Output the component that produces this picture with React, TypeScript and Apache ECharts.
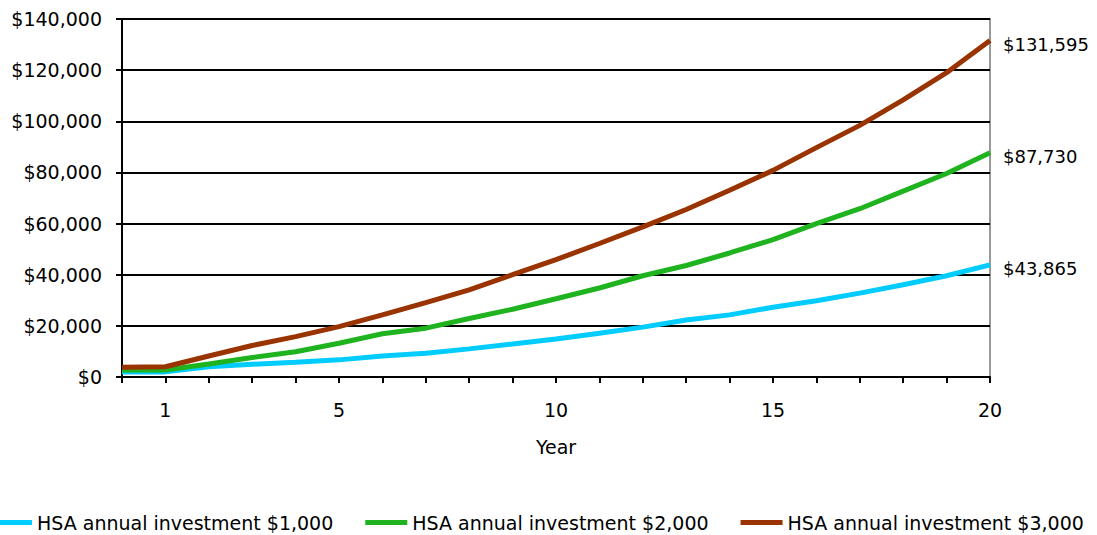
import React, { useEffect, useRef } from "react";
import * as echarts from "echarts";

const years = [0, 1, 2, 3, 4, 5, 6, 7, 8, 9, 10, 11, 12, 13, 14, 15, 16, 17, 18, 19, 20];
const xTickLabels = [1, 5, 10, 15, 20];
const seriesNames = [
  "HSA annual investment $1,000",
  "HSA annual investment $2,000",
  "HSA annual investment $3,000",
];
const invest1000 = [2000, 2000, 4000, 5000, 5800, 6700, 8200, 9300, 11000, 12900, 14900, 17100, 19500, 22300, 24300, 27300, 29800, 32800, 36100, 39600, 43865];
const invest2000 = [2700, 2700, 5100, 7600, 9900, 13200, 16900, 19100, 22900, 26500, 30600, 34800, 39600, 43600, 48500, 53700, 60000, 65800, 72700, 79600, 87730];
const invest3000 = [3800, 4000, 8200, 12300, 15800, 19700, 24300, 29100, 34100, 40000, 45900, 52200, 58700, 65500, 73000, 80800, 89700, 98400, 108400, 119000, 131595];
const colors = ["#00CCFF", "#1FB41F", "#993300"];

const fmt = (v: number) => "$" + v.toLocaleString("en-US");

export default function App() {
  const ref = useRef<HTMLDivElement>(null);
  useEffect(() => {
    if (!ref.current) return;
    const chart = echarts.init(ref.current, null, { renderer: "svg" });
    const all = [invest1000, invest2000, invest3000];
    const font = "'DejaVu Sans', sans-serif";
    const fs = 19;
    chart.setOption({
      animation: false,
      textStyle: { fontFamily: font },
      grid: {
        left: 132,
        right: 107,
        top: 19,
        bottom: 158,
        show: true,
        borderColor: "#999999",
        borderWidth: 2,
      },
      legend: {
        left: 0,
        top: 513,
        padding: 0,
        icon: "rect",
        itemWidth: 42,
        itemHeight: 5,
        itemGap: 32,
        textStyle: { fontSize: fs, color: "#000", fontFamily: font },
        data: seriesNames,
      },
      xAxis: {
        type: "value",
        min: 0,
        max: 20,
        interval: 1,
        name: "Year",
        nameLocation: "middle",
        nameGap: 60,
        nameTextStyle: { fontSize: fs, color: "#000", fontFamily: font },
        axisLine: { show: true, lineStyle: { color: "#000", width: 2 } },
        axisTick: { show: true, length: 6, lineStyle: { color: "#000", width: 2 } },
        splitLine: { show: false },
        axisLabel: {
          fontSize: fs,
          color: "#000",
          margin: 23,
          formatter: (v: number) => (xTickLabels.includes(v) ? String(v) : ""),
        },
      },
      yAxis: {
        type: "value",
        min: 0,
        max: 140000,
        interval: 20000,
        axisLine: { show: true, lineStyle: { color: "#000", width: 2 } },
        axisTick: { show: true, length: 6, lineStyle: { color: "#000", width: 2 } },
        splitLine: { show: true, lineStyle: { color: "#000", width: 2 } },
        axisLabel: {
          fontSize: fs,
          color: "#000",
          margin: 20,
          formatter: (v: number) => fmt(v),
        },
      },
      series: all.map((vals, i) => ({
        name: seriesNames[i],
        type: "line",
        data: years.map((y, j) => [y, vals[j]]),
        showSymbol: false,
        symbol: "none",
        lineStyle: { color: colors[i], width: 5 },
        itemStyle: { color: colors[i] },
        endLabel: {
          show: true,
          distance: 13,
          offset: [0, 4],
          fontSize: 18,
          color: "#000",
          fontFamily: font,
          formatter: (p: any) => fmt(p.value[1]),
        },
      })),
    });
    return () => chart.dispose();
  }, []);
  return (
    <div
      ref={ref}
      style={{ position: "absolute", left: -10, top: 0, width: 1107, height: 535, overflow: "hidden" }}
    />
  );
}
